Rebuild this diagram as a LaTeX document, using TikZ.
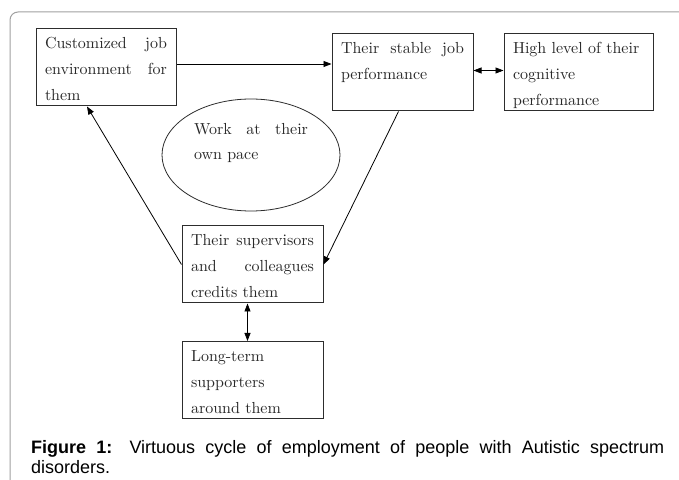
\documentclass[tikz,border=0pt]{standalone}
\usepackage{fontspec}
\usepackage{tikz}
\usetikzlibrary{shapes.geometric, arrows.meta, positioning, calc}
\newfontfamily\captionfont{Liberation Sans}
\newfontfamily\boxface{lmroman10-regular.otf}
\hyphenpenalty=10000
\exhyphenpenalty=10000
\definecolor{framegray}{RGB}{160,160,160}
\definecolor{boxline}{RGB}{45,45,45}
\definecolor{inktext}{RGB}{40,40,40}

\begin{document}
\begin{tikzpicture}[x=1pt, y=1pt,
    cell/.style={draw=boxline, line width=1pt, rectangle, text=inktext, align=justify,
        inner xsep=9pt, inner ysep=6pt, text height=14pt, text depth=51pt,
        font=\boxface\fontsize{16}{26}\selectfont},
    blob/.style={draw=boxline, line width=0.8pt, ellipse, text=inktext, align=justify,
        minimum width=178pt, minimum height=112pt, inner sep=0pt, text width=114pt,
        text height=14pt, text depth=54pt, font=\boxface\fontsize{16}{25}\selectfont},
    link/.style={-{Triangle[length=8pt, width=6pt]}, line width=0.8pt},
    twoway/.style={{Triangle[length=8pt, width=6pt]}-{Triangle[length=8pt, width=6pt]}, line width=0.8pt}]
    \useasboundingbox[fill=white] (0,0) rectangle (679,479);

    % Frame
    \draw[framegray, line width=1pt, rounded corners=8pt] (10,-2) |- (681,467);

    % Boxes
    \node[cell, text width=122pt] (env) at (106,411.5) {Customized job environment for them};
    \node[cell, text width=123pt] (stable) at (402.5,406.5) {Their stable job performance};
    \node[cell, text width=131pt] (cognitive) at (578.5,406.5) {High level of their\\cognitive\\performance};
    \node[blob] (pace) at (251,324) {Work at their own pace};
    \node[cell, text width=123pt] (credit) at (252.5,214.5) {Their supervisors and colleagues credits them};
    \node[cell, text width=123pt] (support) at (252.5,99) {Long-term supporters around them};

    % Arrows
    \draw[link] ([yshift=3.5pt]env.east) -- ([yshift=3.5pt]env.east -| stable.west);
    \draw[twoway] ([yshift=2pt]stable.east) -- ([yshift=2pt]cognitive.west);
    \draw[link] ([xshift=-4pt]stable.south) -- (credit.east);
    \draw[link] (credit.west) -- ([xshift=-19pt]env.south);
    \draw[twoway] ([xshift=-5pt]credit.south) -- ([xshift=-5pt]support.north);

    % Caption
    \node[anchor=base west, inner sep=0pt, text width=633pt, align=justify,
        font=\captionfont\fontsize{18}{20}\selectfont] (caption) at (31,26)
        {\textbf{Figure 1:} Virtuous cycle of employment of people with Autistic spectrum disorders.};
\end{tikzpicture}
\end{document}
